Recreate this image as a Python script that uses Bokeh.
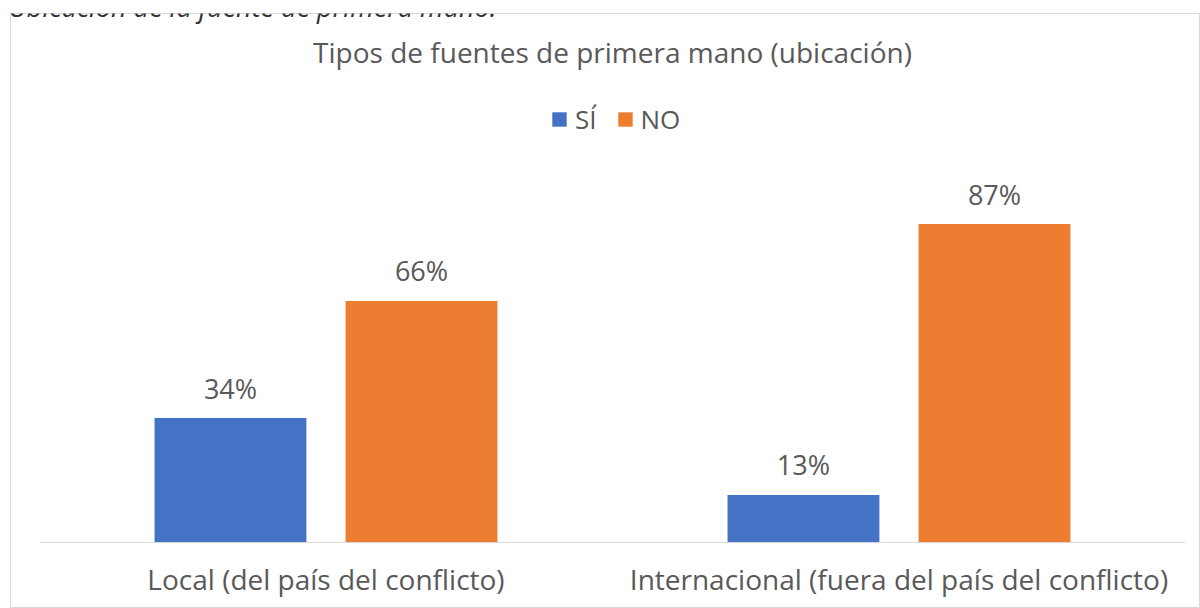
from bokeh.plotting import figure
from bokeh.models import ColumnDataSource, Range1d, Legend, LegendItem, Label
from bokeh.transform import dodge
from bokeh.core.properties import value
from bokeh.embed import file_html
from bokeh.resources import INLINE

# ---- data ----
categories = ["Local (del país del conflicto)", "Internacional (fuera del país del conflicto)"]
series = ["SÍ", "NO"]
si_values = [34, 13]
no_values = [66, 87]
title_text = "Tipos de fuentes de primera mano (ubicación)"
caption_text = "Ubicación de la fuente de primera mano."

# ---- styling ----
BLUE = "#4472C4"
ORANGE = "#ED7D31"
TEXT = "#595959"
LINE = "#D9D9D9"
FONT = value("Open Sans")

xpos = [i + 0.5 for i in range(len(categories))]
src = ColumnDataSource(dict(
    x=xpos,
    cat=categories,
    si=si_values,
    no=no_values,
    si_lbl=[f"{v}%" for v in si_values],
    no_lbl=[f"{v}%" for v in no_values],
))

p = figure(
    width=1200, height=608,
    output_backend="svg", toolbar_location=None, title=None,
    x_range=Range1d(-0.0506, 2.0262), y_range=Range1d(-18.0, 144.5),
    x_axis_type=None, y_axis_type=None,
    min_border_left=10, min_border_top=13, min_border_right=0, min_border_bottom=0,
    outline_line_color=LINE, outline_line_width=1,
    background_fill_color="white", border_fill_color="white",
)

off = 0.1667
bw = 0.265
r_si = p.vbar(x=dodge("x", -off), top="si", width=bw, source=src,
              fill_color=BLUE, line_color=None)
r_no = p.vbar(x=dodge("x", off), top="no", width=bw, source=src,
              fill_color=ORANGE, line_color=None)

# category axis line
p.segment(x0=0, x1=len(categories), y0=0, y1=0, line_color=LINE, line_width=1)

# data labels
p.text(x=dodge("x", -off), y="si", text="si_lbl", source=src,
       text_align="center", text_baseline="alphabetic", y_offset=-30,
       text_font=FONT, text_font_size="27px", text_color=TEXT)
p.text(x=dodge("x", off), y="no", text="no_lbl", source=src,
       text_align="center", text_baseline="alphabetic", y_offset=-30,
       text_font=FONT, text_font_size="27px", text_color=TEXT)

# category labels
p.text(x="x", y=0, text="cat", source=src,
       text_align="center", text_baseline="alphabetic", y_offset=36,
       text_font=FONT, text_font_size="28px", text_color=TEXT)

# chart title
p.add_layout(Label(x=len(categories) / 2, y=133.85, text=title_text,
                   text_align="center", text_baseline="alphabetic",
                   text_font="Open Sans", text_font_size="28px", text_color=TEXT))

# caption above the chart box (mostly cut off at the top)
p.add_layout(Label(x=-0.0541, y=146.4, text=caption_text,
                   text_align="left", text_baseline="alphabetic",
                   text_font="Open Sans", text_font_style="italic",
                   text_font_size="27px", text_color="#303030"))

legend = Legend(
    items=[LegendItem(label=series[0], renderers=[r_si]),
           LegendItem(label=series[1], renderers=[r_no])],
    orientation="horizontal", location=(540, 471),
    glyph_width=18, glyph_height=18, label_standoff=7, spacing=19,
    padding=0, margin=0, border_line_color=None, background_fill_alpha=0,
    label_text_font="Open Sans", label_text_font_size="26px", label_text_color=TEXT,
)
p.add_layout(legend, "center")

open("out.html", "w").write(file_html(p, INLINE))
